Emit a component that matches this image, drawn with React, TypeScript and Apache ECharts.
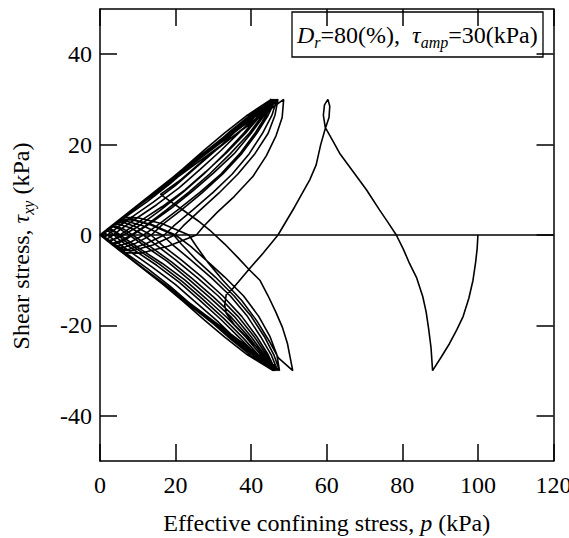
import React, { useEffect, useRef } from "react";
import * as echarts from "echarts";

type Pt = [number, number];

const FONT = "Liberation Serif";

const yTicks = [-40, -20, 0, 20, 40];

// first monotonic cycles: (100,0) -> (88,-30) -> (60.3,30) -> kink -> (47.5,-30)
const initialPath: Pt[] = [
  [100, 0], [99.8, -3], [99.4, -6], [98.7, -10], [97.6, -14], [96.1, -18], [94.4, -21], [92.5, -24], [90.3, -27], [88, -30],
  [87.8, -27.5], [87.6, -25], [87, -21], [86.3, -17], [85.4, -13.6], [83.8, -9.5], [81.9, -6.3], [80.2, -3], [78.4, 0],
  [76.2, 2.8], [74, 5.5], [70.5, 10], [67, 14], [63.4, 18.1], [61.5, 21], [59.6, 23.8], [59.1, 26.5], [59.4, 28.8], [60.3, 30],
  [60.8, 28.5], [60.6, 26], [59.6, 23.5], [58.4, 20], [57.2, 15.5], [55.5, 12.2], [51.5, 6.2], [47.1, 0], [43.2, -4],
  [39.6, -7.4], [35.2, -11.8], [33.4, -13.2], [33, -15.5],
  [33.4, -17.3], [35.5, -19.8], [38.5, -22.3], [41.5, -24.8], [44.5, -27.6], [47.5, -30],
];

const firstUpperUnload: Pt[] = [
  [47.1, 30], [44, 27.5], [39, 24.3], [33, 20.3], [27, 16.3], [21.5, 12.3], [16, 9],
];

const bigArc: Pt[] = [
  [16, 9], [19, 7.2], [22.5, 5.2], [26, 3.1], [29, 1.1], [33, -2], [36.5, -5], [39.5, -7.7], [42.3, -10],
  [44.5, -13.5], [46.5, -17], [48.3, -20.5], [49.6, -24], [50.6, -28.3], [51, -30],
];

// unloading arcs from the negative peaks (tau = -30), in loading order
const lowerArcs: Pt[][] = [
  [[47.5, -30], [46.8, -26.5], [45, -22.5], [42, -18], [38, -13.5], [33, -9.3], [28, -5.5], [24, -2.5], [20, 0], [14, 2.2], [8.5, 3.5], [5, 3.3]],
  [[51, -30], [47.2, -27.2], [44.8, -23.5], [41.5, -19], [37.5, -14.5], [32.5, -10], [28.5, -6], [25.5, -2.5], [23.5, 0], [16.5, 2.5], [10, 3.8], [6, 3.9]],
  [[47.5, -30], [46, -26.5], [43.5, -22.5], [40, -18], [35.5, -13.5], [30.5, -9.3], [25.5, -5.5], [21.5, -2], [19.5, 0], [13.5, 2.2], [8.5, 3.4], [5, 3.3]],
  [[47, -30], [45.3, -26.5], [42.5, -22.5], [39, -18], [34.5, -13.5], [29.5, -9.5], [24, -5.5], [19, -2], [16.5, 0], [11.5, 2], [7.3, 3], [4.5, 3]],
  [[46.5, -30], [44.5, -26.5], [41.5, -22.5], [37.5, -18], [32.5, -13.5], [27, -9.3], [21.5, -5.5], [16.5, -2.3], [13.5, 0], [9.5, 1.8], [6, 2.8], [4, 2.6]],
  [[46.5, -30], [44, -26.5], [40.8, -22.5], [36.5, -18], [31.3, -13.5], [25.8, -9.5], [20, -5.5], [14.8, -2.2], [11.5, 0], [8, 1.6], [5, 2.4], [3.5, 2.3]],
  [[46.3, -30], [43.5, -26.5], [40, -22.5], [35.5, -18], [30, -13.7], [24.5, -9.7], [19, -6], [13.5, -2.7], [9.5, -0.5], [6.5, 1.2], [4, 2], [3, 2]],
  [[46, -30], [43, -26.5], [39.3, -22.5], [34.5, -18], [29, -13.8], [23.5, -9.8], [17.7, -5.8], [12.2, -2.6], [8.4, -0.4], [5.5, 1.2], [3.5, 1.8], [2.5, 1.6]],
  [[46, -30], [42.5, -26.5], [38.5, -22.5], [33.5, -18.2], [28, -14], [22.5, -10], [16.5, -6.3], [11, -3.3], [7, -1], [4.5, 0.5], [2.8, 1.4], [2, 1.3]],
  [[45.8, -30], [42, -26.6], [37.8, -22.7], [32.8, -18.5], [27.3, -14.3], [21.8, -10.3], [15.8, -6.5], [10.3, -3.4], [6.2, -1.1], [4, 0.6], [2.3, 1.2], [1.5, 1]],
  [[45.8, -30], [41.5, -26.6], [37, -22.8], [32, -18.7], [26.5, -14.5], [21, -10.5], [15, -6.7], [9.5, -3.6], [5.5, -1.3], [3, 0.5], [2, 0.9], [1.2, 0.8]],
  [[45.8, -30], [41, -26.7], [36, -23], [31, -19], [25.5, -15], [20, -11], [14, -7.2], [8.5, -4], [4.5, -1.6], [2, 0], [1, 0.6]],
  [[45.8, -30], [40, -26.7], [34.5, -23], [29.5, -19.3], [24, -15.3], [18.5, -11.3], [12.5, -7.4], [7, -4.1], [3, -1.6], [1, -0.3], [0.5, 0.3]],
  [[45.8, -30], [39, -26.5], [33, -22.6], [27.5, -18.7], [22, -14.7], [16.5, -10.8], [11, -7.2], [6, -3.9], [2, -1.3], [0, 0]],
];

// unloading arcs from the positive peaks (tau = +30), in loading order
const upperArcs: Pt[][] = [
  [[48.6, 30], [48.2, 26], [46.6, 22], [44, 17.5], [40.5, 13], [35.5, 8.5], [31, 5], [27.5, 2], [25.5, 0], [18, -2.5], [11, -4], [6, -3.9]],
  [[47.1, 30], [46.3, 26.5], [44.5, 22.5], [41, 18], [36.5, 13.5], [31.5, 9.3], [26.5, 5.5], [22, 2], [19.8, 0], [14, -2.2], [8.5, -3.5], [5, -3.3]],
  [[46.8, 30], [45.5, 26.5], [43, 22.5], [39.5, 18], [35, 13.5], [30, 9.5], [24.5, 5.5], [19.5, 2], [17, 0], [12, -2], [7.5, -3.2], [4.5, -3]],
  [[46.5, 30], [44.5, 26.5], [41.5, 22.5], [37.5, 18], [32.5, 13.5], [27, 9.3], [21.5, 5.5], [16.5, 2.3], [13.6, 0], [9.5, -1.8], [6, -2.8], [4, -2.6]],
  [[46.2, 30], [44, 26.5], [41, 22.5], [37, 18], [32, 13.5], [26.5, 9.5], [20.5, 5.5], [15, 2], [11.5, 0], [8, -1.6], [5, -2.4], [3.5, -2.3]],
  [[46, 30], [43.5, 26.5], [40, 22.5], [35.5, 18], [30, 13.7], [24.5, 9.7], [19, 6], [13.5, 2.7], [9.5, 0.5], [6.5, -1.2], [4, -2], [3, -2]],
  [[45.8, 30], [43, 26.5], [39.5, 22.5], [34.5, 18], [29, 13.5], [23.5, 9.5], [17.5, 5.5], [12, 2], [8.3, 0], [5.5, -1.2], [3.5, -1.8], [2.5, -1.6]],
  [[45.8, 30], [42.5, 26.5], [38.5, 22.5], [33.5, 18.2], [28, 14], [22.5, 10], [16.5, 6.3], [11, 3.3], [7, 1], [4.5, -0.5], [2.8, -1.4], [2, -1.3]],
  [[45.6, 30], [42, 26.5], [38, 22.5], [33, 18], [27.5, 13.5], [22, 9.5], [16, 5.5], [10.3, 2], [6.2, 0], [4, -0.9], [2.3, -1.2], [1.5, -1]],
  [[45.5, 30], [41.5, 26.6], [37, 22.8], [32, 18.7], [26.5, 14.5], [21, 10.5], [15, 6.7], [9.5, 3.6], [5.5, 1.3], [3.5, 0], [2, -0.8], [1.2, -0.8]],
  [[45.3, 30], [41, 26.7], [36, 23], [31, 19], [25.5, 15], [20, 11], [14, 7.2], [8.5, 4], [4.5, 1.6], [2, 0], [1, -0.6]],
  [[45.3, 30], [40, 26.7], [34.5, 23], [29.5, 19.3], [24, 15.3], [18.5, 11.3], [12.5, 7.4], [7, 4.1], [3, 1.6], [1, 0.3], [0.5, -0.3]],
  [[45.3, 30], [39, 26.5], [33, 22.6], [27.5, 18.7], [22, 14.7], [16.5, 10.8], [11, 7.2], [6, 3.9], [2, 1.3], [0, 0]],
];

const zeroLine: Pt[] = [[0, 0], [120, 0]];

function buildPath(): Pt[] {
  const out: Pt[] = [...initialPath, ...lowerArcs[0], ...firstUpperUnload, ...bigArc, ...lowerArcs[1]];
  for (let i = 0; i < upperArcs.length; i++) {
    out.push(...upperArcs[i]);
    if (lowerArcs[i + 2]) out.push(...lowerArcs[i + 2]);
  }
  return out;
}

const main = { fontFamily: FONT, fontSize: 24, color: "#000", fill: "#000", lineHeight: 30 };
const ital = { ...main, fontStyle: "italic" };
const sub = { fontFamily: FONT, fontSize: 16, fontStyle: "italic", color: "#000", fill: "#000", lineHeight: 16, padding: [14, 0, 0, 0] };

export default function App() {
  const ref = useRef<HTMLDivElement>(null);
  useEffect(() => {
    if (!ref.current) return;
    const chart = echarts.init(ref.current, undefined, { renderer: "svg" });
    const axisLine = { show: true, onZero: false, lineStyle: { color: "#000", width: 1.5 } };
    const tick = { show: true, inside: true, length: 17, lineStyle: { color: "#000", width: 1.5 } };
    chart.setOption({
      animation: false,
      backgroundColor: "#fff",
      grid: { left: 100, right: 15.5, top: 9, bottom: 77, containLabel: false, outerBoundsMode: "none" },
      xAxis: [
        {
          type: "value", min: 0, max: 120, interval: 20, position: "bottom",
          axisLine, axisTick: tick, splitLine: { show: false },
          axisLabel: { color: "#000", fontFamily: FONT, fontSize: 24, margin: 12, showMaxLabel: true, showMinLabel: true, hideOverlap: false },
          name: "{n|Effective confining stress, }{i|p}{n| (kPa)}",
          nameLocation: "middle", nameGap: 47,
          nameTextStyle: { rich: { n: main, i: ital } },
        },
        {
          type: "value", min: 0, max: 120, interval: 20, position: "top",
          axisLine, axisTick: tick, splitLine: { show: false }, axisLabel: { show: false },
        },
      ],
      yAxis: [
        {
          type: "value", min: -50, max: 50, position: "left",
          axisLine, splitLine: { show: false },
          axisTick: { ...tick, customValues: yTicks },
          axisLabel: { color: "#000", fontFamily: FONT, fontSize: 24, margin: 8, customValues: yTicks },
          name: "{n|Shear stress, }{i|τ}{s|xy}{n| (kPa)}",
          nameLocation: "middle", nameGap: 64, nameRotate: 90,
          nameTextStyle: { rich: { n: main, i: ital, s: sub }, padding: [0, 22, 0, 0] },
        },
        {
          type: "value", min: -50, max: 50, position: "right",
          axisLine, splitLine: { show: false },
          axisTick: { ...tick, customValues: yTicks },
          axisLabel: { show: false },
        },
      ],
      graphic: [
        {
          type: "group",
          children: [
            { type: "rect", shape: { x: 292, y: 12, width: 251, height: 45 }, style: { fill: "#fff", stroke: "#000", lineWidth: 1.3 } },
            {
              type: "text", x: 297, y: 35,
              style: {
                text: "{i|D}{s|r}{n|=80(%),  }{i|τ}{s|amp}{n|=30(kPa)}",
                align: "left", verticalAlign: "middle",
                rich: { n: main, i: ital, s: sub },
              },
            },
          ],
        },
      ],
      series: [
        {
          type: "line", data: zeroLine, xAxisIndex: 0, yAxisIndex: 0,
          showSymbol: false, symbol: "none", lineStyle: { color: "#000", width: 1.5 }, silent: true,
        },
        {
          type: "line", data: buildPath(), xAxisIndex: 0, yAxisIndex: 0,
          showSymbol: false, symbol: "none", lineStyle: { color: "#000", width: 1.6 }, silent: true,
        },
      ],
    });
    return () => chart.dispose();
  }, []);
  return <div ref={ref} style={{ position: "fixed", left: 0, top: 0, width: 569, height: 538 }} />;
}
